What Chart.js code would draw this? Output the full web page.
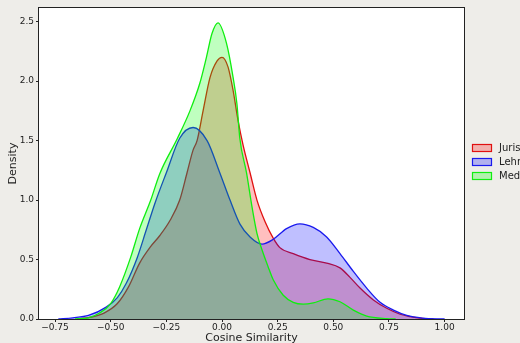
<!DOCTYPE html>
<html>
<head>
<meta charset="utf-8">
<script src="https://cdn.jsdelivr.net/npm/chart.js@4"></script>
<style>
  html, body { margin: 0; padding: 0; background: #eeede9; overflow: hidden; }
  #wrap { width: 520px; height: 343px; }
</style>
</head>
<body>
<div id="wrap"><canvas id="c" width="520" height="343"></canvas></div>
<script>
// ---- data ----
const seriesLabels = ["Jurisprudenz", "Lehramt", "Medizin"];

const xJuris = [-0.65, -0.59, -0.53, -0.47, -0.42, -0.37, -0.32, -0.28, -0.233, -0.19, -0.157, -0.13, -0.112, -0.085, -0.054, -0.022, 0.0, 0.027, 0.05, 0.072, 0.095, 0.126, 0.157, 0.193, 0.23, 0.26, 0.32, 0.395, 0.47, 0.53, 0.575, 0.62, 0.68, 0.74, 0.8, 0.845, 0.9, 0.95];
const yJuris = [0, 0.015, 0.05, 0.13, 0.27, 0.47, 0.61, 0.7, 0.83, 1.0, 1.23, 1.42, 1.5, 1.75, 2.03, 2.17, 2.2, 2.12, 1.92, 1.67, 1.46, 1.23, 1.0, 0.82, 0.68, 0.6, 0.55, 0.5, 0.47, 0.43, 0.35, 0.26, 0.16, 0.09, 0.04, 0.02, 0.005, 0];

const xLehr = [-0.735, -0.67, -0.6, -0.52, -0.47, -0.43, -0.38, -0.34, -0.3, -0.25, -0.19, -0.13, -0.067, -0.01, 0.036, 0.08, 0.126, 0.18, 0.23, 0.29, 0.35, 0.41, 0.47, 0.53, 0.59, 0.65, 0.71, 0.77, 0.83, 0.9, 1.0];
const yLehr = [0, 0.01, 0.03, 0.1, 0.18, 0.3, 0.52, 0.75, 0.98, 1.23, 1.52, 1.61, 1.5, 1.23, 1.0, 0.8, 0.69, 0.63, 0.67, 0.76, 0.8, 0.77, 0.69, 0.55, 0.4, 0.26, 0.14, 0.075, 0.03, 0.008, 0];

const xMed = [-0.66, -0.6, -0.55, -0.5, -0.46, -0.41, -0.37, -0.32, -0.28, -0.2, -0.144, -0.1, -0.07, -0.045, -0.018, 0.02, 0.05, 0.067, 0.08, 0.11, 0.135, 0.157, 0.18, 0.207, 0.23, 0.275, 0.32, 0.365, 0.41, 0.476, 0.53, 0.59, 0.65, 0.74, 0.78];
const yMed = [0, 0.01, 0.05, 0.13, 0.27, 0.52, 0.76, 1.0, 1.22, 1.52, 1.75, 1.98, 2.2, 2.4, 2.49, 2.32, 2.03, 1.81, 1.52, 1.23, 0.94, 0.72, 0.58, 0.44, 0.33, 0.2, 0.14, 0.125, 0.135, 0.17, 0.145, 0.075, 0.025, 0.003, 0];

const xTickValues = [-0.75, -0.5, -0.25, 0.0, 0.25, 0.5, 0.75, 1.0];
const yTickValues = [0.0, 0.5, 1.0, 1.5, 2.0, 2.5];
const xTitle = "Cosine Similarity";
const yTitle = "Density";

// ---- build chart ----
const toPts = (xs, ys) => xs.map((x, i) => ({ x: x, y: ys[i] }));
const FONT = "'DejaVu Sans', sans-serif";

const bgPlugin = {
  id: 'bgAndFrame',
  beforeDraw(chart) {
    const { ctx, chartArea: a } = chart;
    ctx.save();
    ctx.fillStyle = '#ffffff';
    ctx.fillRect(a.left, a.top, a.right - a.left, a.bottom - a.top);
    ctx.restore();
  },
  afterDraw(chart) {
    const { ctx, chartArea: a } = chart;
    ctx.save();
    ctx.strokeStyle = '#222';
    ctx.lineWidth = 1;
    ctx.strokeRect(Math.round(a.left) - 0.5, Math.round(a.top) - 0.5, Math.round(a.right - a.left) + 1, Math.round(a.bottom - a.top) + 1);
    // legend
    const x0 = a.right + 8, yc = (a.top + a.bottom) / 2;
    const rowH = 14;
    chart.data.datasets.forEach((ds, i) => {
      const y = yc + (i - 1) * rowH - 1.5;
      ctx.fillStyle = ds.backgroundColor;
      ctx.fillRect(x0, y - 4, 20, 8);
      ctx.strokeStyle = ds.borderColor;
      ctx.lineWidth = 1.2;
      ctx.strokeRect(x0 + 0.5, y - 3.5, 19, 7);
      ctx.fillStyle = '#222';
      ctx.font = "10px " + FONT;
      ctx.textBaseline = 'middle';
      ctx.textAlign = 'left';
      ctx.fillText(ds.label, x0 + 27, y + 0.5);
    });
    ctx.restore();
  }
};

const mk = (label, xs, ys, line, fill, order) => ({
  label: label,
  data: toPts(xs, ys),
  borderColor: line,
  backgroundColor: fill,
  borderWidth: 1.3,
  pointRadius: 0,
  fill: 'origin',
  cubicInterpolationMode: 'monotone',
  order: order
});

new Chart(document.getElementById('c'), {
  type: 'line',
  data: {
    datasets: [
      mk(seriesLabels[0], xJuris, yJuris, '#e01010', 'rgba(255,0,0,0.25)', 3),
      mk(seriesLabels[1], xLehr, yLehr, '#1a1aee', 'rgba(0,0,255,0.25)', 2),
      mk(seriesLabels[2], xMed, yMed, '#10ee10', 'rgba(0,255,0,0.25)', 1)
    ]
  },
  options: {
    responsive: false,
    animation: false,
    layout: { padding: { top: 8, right: 56, left: 0, bottom: 0 } },
    plugins: { legend: { display: false }, tooltip: { enabled: false } },
    scales: {
      x: {
        type: 'linear',
        min: -0.822, max: 1.087,
        afterBuildTicks: s => { s.ticks = xTickValues.map(v => ({ value: v })); },
        afterFit: s => { s.height = 24; },
        grid: { drawOnChartArea: false, drawTicks: true, tickLength: 3, color: '#222', tickWidth: 1 },
        border: { display: false },
        ticks: {
          padding: 0,
          color: '#222',
          font: { family: FONT, size: 9 },
          maxRotation: 0,
          autoSkip: false,
          callback: v => (v < 0 ? '\u2212' : '') + Math.abs(v).toFixed(2)
        },
        title: { display: true, text: xTitle, color: '#222', font: { family: FONT, size: 11 }, padding: { top: 0, bottom: -1.5 } }
      },
      y: {
        type: 'linear',
        min: 0, max: 2.615,
        afterBuildTicks: s => { s.ticks = yTickValues.map(v => ({ value: v })); },
        afterFit: s => { s.width = 39; },
        grid: { drawOnChartArea: false, drawTicks: true, tickLength: 3, color: '#222', tickWidth: 1 },
        border: { display: false },
        ticks: {
          padding: 2,
          color: '#222',
          font: { family: FONT, size: 9 },
          autoSkip: false,
          callback: v => v.toFixed(1)
        },
        title: { display: true, text: yTitle, color: '#222', font: { family: FONT, size: 11 }, padding: { top: 7, bottom: 0 } }
      }
    }
  },
  plugins: [bgPlugin]
});
</script>
</body>
</html>
